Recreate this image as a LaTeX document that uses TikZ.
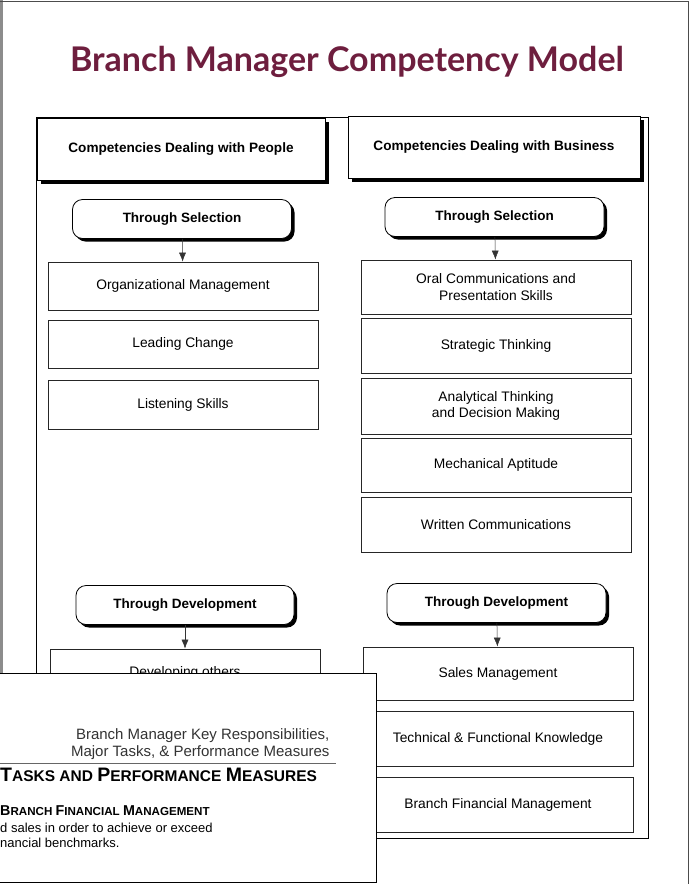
\documentclass[tikz,border=0pt]{standalone}
\usepackage{fontspec}
\setmainfont{Liberation Sans}
\newfontfamily\titlefont{Lato}
\usepackage{xcolor}
\usepackage{tikz}
\usetikzlibrary{shapes,arrows,positioning,calc,shadows,arrows.meta}
\definecolor{maroon}{RGB}{110,30,62}

\begin{document}
\begin{tikzpicture}[x=1pt,y=-1pt,
    hdr/.style={draw, line width=0.9pt, fill=white, minimum width=288pt, minimum height=62pt,
        font=\fontsize{13.6}{15}\selectfont\bfseries,
        drop shadow={shadow xshift=4pt,shadow yshift=-4pt,fill=black,opacity=1}},
    pill/.style={draw, line width=0.8pt, fill=white, rounded corners=10pt, minimum width=219pt, minimum height=39pt,
        font=\fontsize{13.5}{15}\selectfont\bfseries,
        drop shadow={shadow xshift=3pt,shadow yshift=-3pt,fill=black,opacity=1}},
    comp/.style={draw=black!85, line width=0.8pt, fill=white, minimum width=270pt, align=center,
        font=\fontsize{13.8}{16.5}\selectfont},
    flow/.style={-{Latex[length=9pt,width=7pt]}, line width=0.5pt, draw=black!80}]
    \useasboundingbox (0,0) rectangle (691,884);
    % page
    \fill[black!45] (0,0) rectangle (3,673);
    \draw[black!70, line width=0.6pt] (0,1) -- (688,1) -- (688,884);
    \node[font=\titlefont\fontsize{34}{38}\selectfont\bfseries, text=maroon] (title) at (347,62) {Branch Manager Competency Model};
    % outer frame
    \draw[line width=0.9pt] (36,117) rectangle (648,838);
    \node[hdr] (hdrL) at (181,149) {Competencies Dealing with People};
    \node[hdr, minimum width=292pt] (hdrR) at (494,147) {Competencies Dealing with Business};
    % people column
    \node[pill] (selL) at (182,219) {Through Selection};
    \node[comp, minimum height=48pt] (org) at (183,286) {Organizational Management};
    \node[comp, minimum height=48pt] (lead) at (183,344) {Leading Change};
    \node[comp, minimum height=49pt] (listen) at (183,404.5) {Listening Skills};
    \node[pill, minimum width=218pt] (devL) at (185,605) {Through Development};
    \node[comp, minimum height=48pt] (others) at (185,673) {Developing others};
    \draw[flow] (selL) -- (org);
    \draw[flow] (devL) -- (others);
    % business column
    \node[pill] (selR) at (494.5,217) {Through Selection};
    \node[comp, minimum height=54pt] (oral) at (496,287) {Oral Communications and\\Presentation Skills};
    \node[comp, minimum height=55pt] (strat) at (496,345.5) {Strategic Thinking};
    \node[comp, minimum height=56pt] (anal) at (496,406) {Analytical Thinking\\and Decision Making};
    \node[comp, minimum height=54pt] (mech) at (496,465) {Mechanical Aptitude};
    \node[comp, minimum height=55pt] (writ) at (496,524.5) {Written Communications};
    \node[pill] (devR) at (496.5,603) {Through Development};
    \node[comp, minimum height=53pt] (sales) at (498,673.5) {Sales Management};
    \node[comp, minimum height=55pt] (tech) at (498,738.5) {Technical \& Functional Knowledge};
    \node[comp, minimum height=55pt] (fin) at (498,804.5) {Branch Financial Management};
    \draw[flow] (selR) -- (oral);
    \draw[flow] (devR) -- (sales);
    % overlapping page
    \draw[fill=white, line width=0.7pt] (-2,673) rectangle (376,882);
    \node[anchor=east, font=\fontsize{15}{17}\selectfont, text=black!80] (resp1) at (333,736) {Branch Manager Key Responsibilities,};
    \node[anchor=east, font=\fontsize{15}{17}\selectfont, text=black!80] (resp2) at (333,753) {Major Tasks, \& Performance Measures};
    \draw[black!60, line width=0.8pt] (0,763) -- (336,763);
    \node[anchor=west, inner sep=0pt, font=\bfseries] (tasks) at (0,775)
        {{\fontsize{19.5}{21}\selectfont T}{\fontsize{15.5}{21}\selectfont ASKS AND }{\fontsize{19.5}{21}\selectfont P}{\fontsize{15.5}{21}\selectfont ERFORMANCE }{\fontsize{19.5}{21}\selectfont M}{\fontsize{15.5}{21}\selectfont EASURES}};
    \node[anchor=west, inner sep=0pt, font=\bfseries] (area) at (0,811)
        {{\fontsize{14.3}{16}\selectfont B}{\fontsize{11.6}{16}\selectfont RANCH }{\fontsize{14.3}{16}\selectfont F}{\fontsize{11.6}{16}\selectfont INANCIAL }{\fontsize{14.3}{16}\selectfont M}{\fontsize{11.6}{16}\selectfont ANAGEMENT}};
    \node[anchor=north west, inner sep=0pt, align=left, font=\fontsize{13}{14.5}\selectfont] (goal) at (0,823)
        {d sales in order to achieve or exceed\\nancial benchmarks.};
\end{tikzpicture}
\end{document}
